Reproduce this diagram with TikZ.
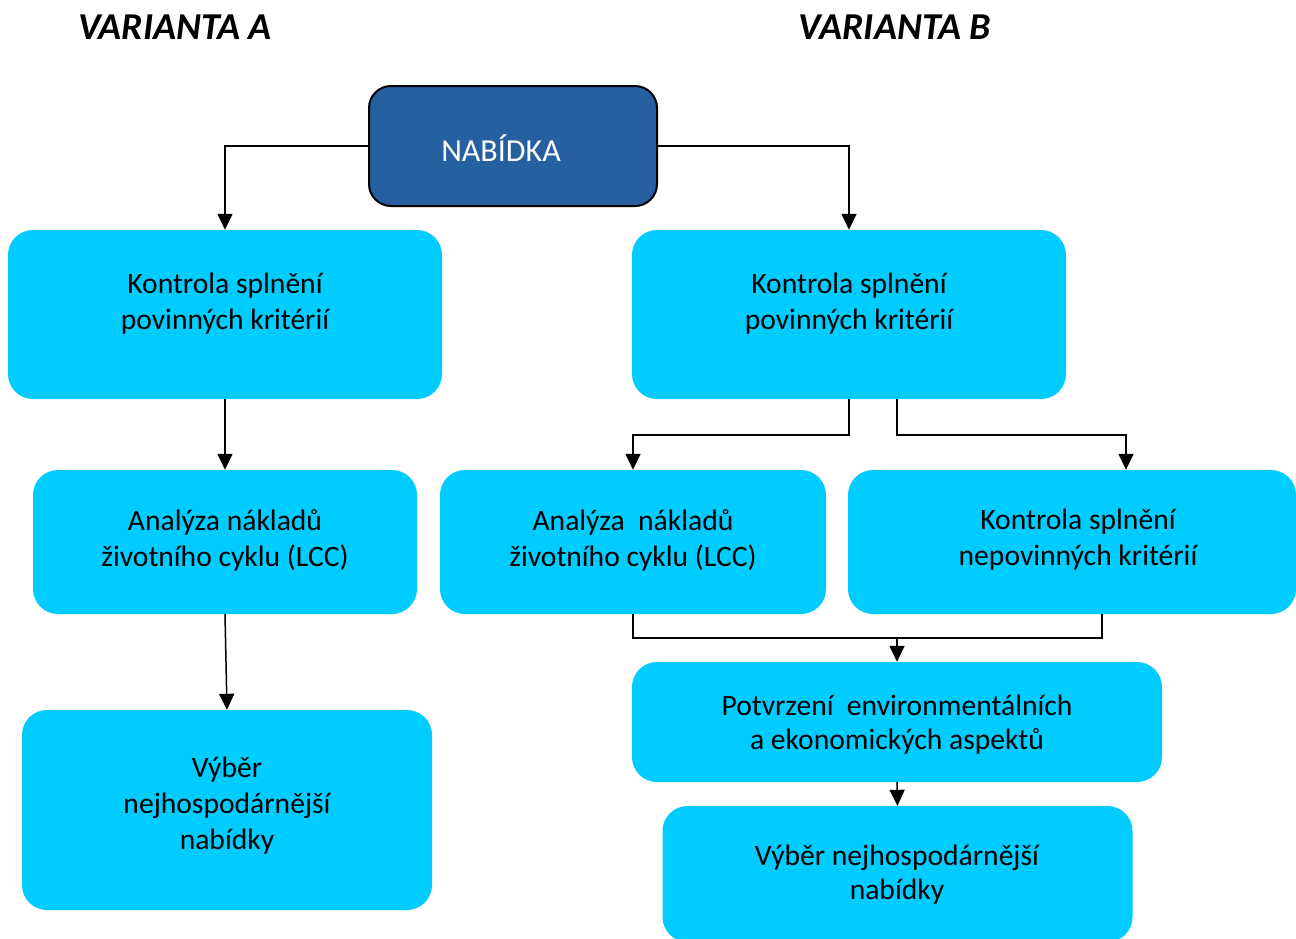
\documentclass[tikz,border=0pt]{standalone}
\usepackage{fontspec}
\setmainfont{Carlito}
\usetikzlibrary{arrows.meta}
\definecolor{boxcyan}{HTML}{00CCFF}
\definecolor{boxnavy}{HTML}{2660A1}
\begin{document}
\begin{tikzpicture}[x=1pt,y=1pt,
  cbox/.style={fill=boxcyan, draw=none, rounded corners=25pt, inner sep=0pt},
  txt/.style={align=center, font=\fontsize{29.6}{36}\selectfont, inner sep=0pt},
  txtb/.style={align=center, font=\fontsize{29.6}{34}\selectfont, inner sep=0pt},
  title/.style={font=\fontsize{38}{44}\selectfont\bfseries\itshape, inner sep=0pt},
  link/.style={line width=1.5pt, -{Triangle[width=15pt,length=16pt]}},
  plain/.style={line width=1.5pt}]
\useasboundingbox (0,0) rectangle (1296,-938);
\clip (0,0) rectangle (1296,-938);

% titles
\node[title] (ta) at (175,-27) {VARIANTA A};
\node[title] (tb) at (895,-27) {VARIANTA B};

% top node
\node[draw=black, line width=2pt, fill=boxnavy, rounded corners=22pt,
      minimum width=288pt, minimum height=120pt, inner sep=0pt] (top) at (513,-146) {};
\node[align=center, font=\fontsize{32}{38}\selectfont, inner sep=0pt, text=white] (toptxt) at (501,-148) {NABÍDKA};

% boxes
\node[cbox, minimum width=434pt, minimum height=169pt] (a1) at (225,-314.5) {};
\node[cbox, minimum width=434pt, minimum height=169pt] (b1) at (849,-314.5) {};
\node[cbox, minimum width=384pt, minimum height=144pt] (a2) at (225,-542) {};
\node[cbox, minimum width=386pt, minimum height=144pt] (bm) at (633,-542) {};
\node[cbox, minimum width=448pt, minimum height=144pt] (br) at (1072,-542) {};
\node[cbox, minimum width=410pt, minimum height=200pt] (a3) at (227,-810) {};
\node[cbox, minimum width=530pt, minimum height=120pt] (pv) at (897,-722) {};
\node[cbox, minimum width=470pt, minimum height=136pt] (last) at (897.5,-874) {};

% texts
\node[txt] (a1t) at (225,-304) {Kontrola splnění\\povinných kritérií};
\node[txt] (b1t) at (849,-304) {Kontrola splnění\\povinných kritérií};
\node[txt] (a2t) at (225,-540) {Analýza nákladů\\životního cyklu (LCC)};
\node[txt] (bmt) at (633,-540) {Analýza~~nákladů\\životního cyklu (LCC)};
\node[txt] (brt) at (1078,-540) {Kontrola splnění\\nepovinných kritérií};
\node[txt] (a3t) at (227,-806) {Výběr\\nejhospodárnější\\nabídky};
\node[txtb] (pvt) at (897,-725) {Potvrzení~~environmentálních\\a ekonomických aspektů};
\node[txtb] (lastt) at (897,-875) {Výběr nejhospodárnější\\nabídky};

% connectors
\draw[link] (top.west) -| (a1.north);
\draw[link] (top.east) -| (b1.north);
\draw[link] (a1.south) -- (a2.north);
\draw[link] (a2.south) -- (a3.north);
\draw[link] (b1.south) -- ++(0,-36) -| (bm.north);
\draw[link] ([xshift=48pt]b1.south) -- ++(0,-36) -| ([xshift=54pt]br.north);
\coordinate (m) at (897,-638);
\draw[plain] (bm.south) |- (m) -| ([xshift=30pt]br.south);
\draw[link] (m) -- (pv.north);
\draw[link] (pv.south) -- (last.north);
\end{tikzpicture}
\end{document}
